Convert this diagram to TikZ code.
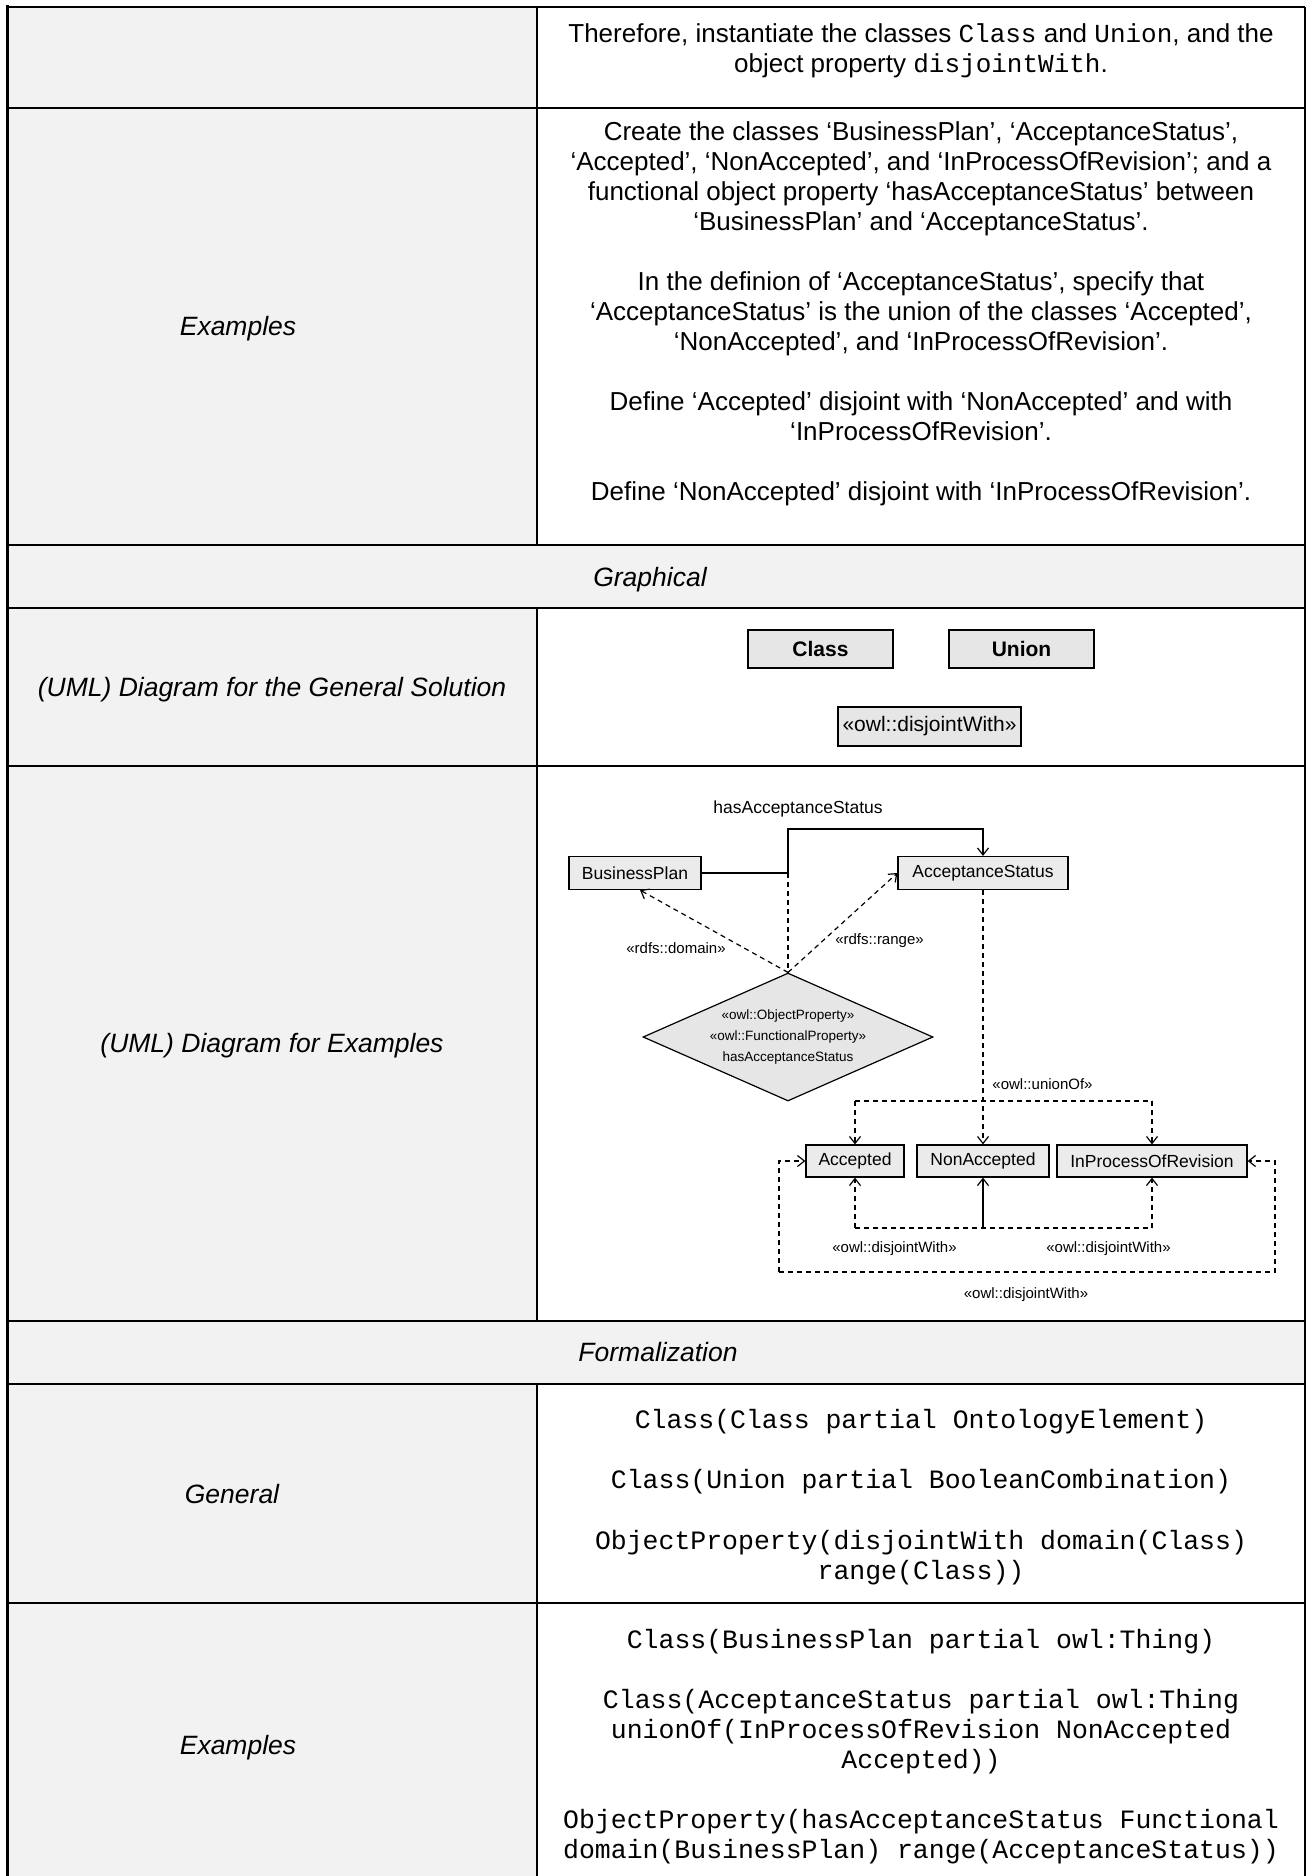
\documentclass[tikz,border=0pt]{standalone}
\usepackage{fontspec}
\setmainfont{Liberation Sans}
\setmonofont{Liberation Mono}
\usetikzlibrary{arrows.meta,shapes.geometric}

\definecolor{cellgray}{HTML}{F2F2F2}
\definecolor{boxfill}{HTML}{E6E6E6}
\definecolor{umlfill}{HTML}{EBEBEB}

\tikzset{
  body/.style={anchor=base, inner sep=0pt, font=\fontsize{26}{30}\selectfont},
  head/.style={anchor=base, inner sep=0pt, font=\fontsize{26.5}{30}\selectfont\itshape},
  code/.style={anchor=base, inner sep=0pt, font=\fontsize{26.5}{30}\selectfont\ttfamily},
  rulethin/.style={line width=1.2pt},
  rulethick/.style={line width=2.4pt},
  genbox/.style={draw=black, line width=1.5pt, fill=boxfill, minimum height=38pt,
                 inner sep=0pt, font=\fontsize{21}{24}\selectfont},
  umlbox/.style={draw=black, line width=1.2pt, fill=umlfill, minimum height=33pt,
                 inner sep=0pt, font=\fontsize{17.5}{20}\selectfont},
  small/.style={anchor=base, inner sep=0pt, font=\fontsize{15}{18}\selectfont},
  dashln/.style={line width=1.2pt, dash pattern=on 5pt off 4pt},
  dep/.style={dashln, -{Straight Barb[length=7pt,width=11pt]}},
  assoc/.style={line width=1.2pt, -{Straight Barb[length=7pt,width=11pt]}},
}

\begin{document}
\begin{tikzpicture}[x=1pt,y=-1pt]
\useasboundingbox (0,0) rectangle (1307,1876);

% cell shading
\fill[cellgray] (7,7) rectangle (537,1876);
\fill[cellgray] (7,545) rectangle (1305,608);
\fill[cellgray] (7,1321) rectangle (1305,1384);

% table rules
\draw[line width=3pt] (7,5.5) -- (7,1876);
\draw[line width=2pt] (1305,7) -- (1305,1876);
\draw[line width=1.6pt] (7,7) -- (1305,7);
\draw[line width=2.2pt] (537,7) -- (537,545);
\draw[line width=2.2pt] (537,608) -- (537,1321);
\draw[line width=2.2pt] (537,1384) -- (537,1876);
\draw[rulethin] (7,108) -- (537,108);
\draw[rulethick] (537,108) -- (1305,108);
\draw[rulethin] (7,545) -- (1305,545);
\draw[rulethick] (7,608) -- (1305,608);
\draw[rulethin] (7,766) -- (537,766);
\draw[rulethick] (537,766) -- (1305,766);
\draw[rulethin] (7,1321) -- (1305,1321);
\draw[rulethick] (7,1384) -- (1305,1384);
\draw[rulethin] (7,1603) -- (537,1603);
\draw[rulethick] (537,1603) -- (1305,1603);

% first row
\node[body] (r1a) at (921,43) {Therefore, instantiate the classes \texttt{Class} and \texttt{Union}, and the};
\node[body] (r1b) at (921,72) {object property \texttt{disjointWith}.};

% examples row
\node[head] (exlbl) at (238,335) {Examples};
\node[body] (e1) at (921,140) {Create the classes ‘BusinessPlan’, ‘AcceptanceStatus’,};
\node[body] (e2) at (921,170) {‘Accepted’, ‘NonAccepted’, and ‘InProcessOfRevision’; and a};
\node[body] (e3) at (921,200) {functional object property ‘hasAcceptanceStatus’ between};
\node[body] (e4) at (921,230) {‘BusinessPlan’ and ‘AcceptanceStatus’.};
\node[body] (e5) at (921,290) {In the definion of ‘AcceptanceStatus’, specify that};
\node[body] (e6) at (921,320) {‘AcceptanceStatus’ is the union of the classes ‘Accepted’,};
\node[body] (e7) at (921,350) {‘NonAccepted’, and ‘InProcessOfRevision’.};
\node[body] (e8) at (921,410) {Define ‘Accepted’ disjoint with ‘NonAccepted’ and with};
\node[body] (e9) at (921,440) {‘InProcessOfRevision’.};
\node[body] (e10) at (921,500) {Define ‘NonAccepted’ disjoint with ‘InProcessOfRevision’.};

% section headings and row labels
\node[head] (graph) at (650,586) {Graphical};
\node[head] (umlgen) at (272,696) {(UML) Diagram for the General Solution};
\node[head] (umlex) at (272,1052) {(UML) Diagram for Examples};
\node[head] (formal) at (658,1361) {Formalization};
\node[head] (genlbl) at (232,1503) {General};
\node[head] (exlbl2) at (238,1754) {Examples};

% general solution diagram
\node[genbox, minimum width=145pt, font=\fontsize{21}{24}\selectfont\bfseries] (cls) at (820.5,649) {Class};
\node[genbox, minimum width=145pt, font=\fontsize{21}{24}\selectfont\bfseries] (uni) at (1021.5,649) {Union};
\node[genbox, minimum width=183pt, minimum height=39pt] (dis) at (929.5,726.5) {«owl::disjointWith»};

% examples diagram: classes
\node[umlbox, minimum width=132pt] (bp) at (635,873) {BusinessPlan};
\node[umlbox, minimum width=170pt] (as) at (983,873) {AcceptanceStatus};
\node[umlbox, minimum width=98pt, minimum height=32pt] (acc) at (855,1161) {Accepted};
\node[umlbox, minimum width=132pt, minimum height=32pt] (nacc) at (983,1161) {NonAccepted};
\node[umlbox, minimum width=190pt, minimum height=32pt] (ipr) at (1152,1161) {InProcessOfRevision};

% examples diagram: property
\node[diamond, aspect=2.27, draw=black, line width=1.2pt, fill=boxfill,
      minimum width=290pt, minimum height=128pt, inner sep=0pt, align=center,
      font=\fontsize{13.5}{21}\selectfont] (prop) at (788,1037)
      {«owl::ObjectProperty»\\«owl::FunctionalProperty»\\hasAcceptanceStatus};

% examples diagram: labels
\node[anchor=base, inner sep=0pt, font=\fontsize{17.5}{20}\selectfont] (hasl) at (798,813) {hasAcceptanceStatus};
\node[small] (doml) at (676,953) {«rdfs::domain»};
\node[small] (rngl) at (879.5,944) {«rdfs::range»};
\node[small] (unil) at (1042.5,1089) {«owl::unionOf»};
\node[small] (dj1) at (894.5,1252) {«owl::disjointWith»};
\node[small] (dj2) at (1108.5,1252) {«owl::disjointWith»};
\node[small] (dj3) at (1026,1298) {«owl::disjointWith»};

% examples diagram: bend points
\coordinate (j1) at (788,873);
\coordinate (j2) at (983,829);
\coordinate (u1) at (855,1101);
\coordinate (u2) at (1152,1101);
\coordinate (d1) at (855,1228);
\coordinate (d2) at (1152,1228);
\coordinate (d3) at (983,1228);
\coordinate (o1) at (779,1272);
\coordinate (o2) at (1275,1272);

% examples diagram: connectors
\draw[assoc] (bp.east) -- (j1) |- (j2) -- (as.north);
\draw[dashln] (j1) -- (prop.north);
\draw[dep] (prop.north) -- ([xshift=5pt]bp.south);
\draw[dep] (prop.north) -- (as.west);
\draw[dep] (as.south) -- (nacc.north);
\draw[dashln] (u1) -- (u2);
\draw[dep] (u1) -- (acc.north);
\draw[dep] (u2) -- (ipr.north);
\draw[dashln] (d1) -- (d2);
\draw[dep] (d1) -- (acc.south);
\draw[dep] (d2) -- (ipr.south);
\draw[assoc] (d3) -- (nacc.south);
\draw[dep] (o1) -- (o2) |- (ipr.east);
\draw[dep] (o1) |- (acc.west);

% formalization: general
\node[code] (g1) at (921,1428) {Class(Class partial OntologyElement)};
\node[code] (g2) at (921,1488) {Class(Union partial BooleanCombination)};
\node[code] (g3) at (921,1549) {ObjectProperty(disjointWith domain(Class)};
\node[code] (g4) at (921,1579) {range(Class))};

% formalization: examples
\node[code] (x1) at (921,1648) {Class(BusinessPlan partial owl:Thing)};
\node[code] (x2) at (921,1708) {Class(AcceptanceStatus partial owl:Thing};
\node[code] (x3) at (921,1738) {unionOf(InProcessOfRevision NonAccepted};
\node[code] (x4) at (921,1768) {Accepted))};
\node[code] (x5) at (921,1828) {ObjectProperty(hasAcceptanceStatus Functional};
\node[code] (x6) at (921,1858) {domain(BusinessPlan) range(AcceptanceStatus))};
\end{tikzpicture}
\end{document}
